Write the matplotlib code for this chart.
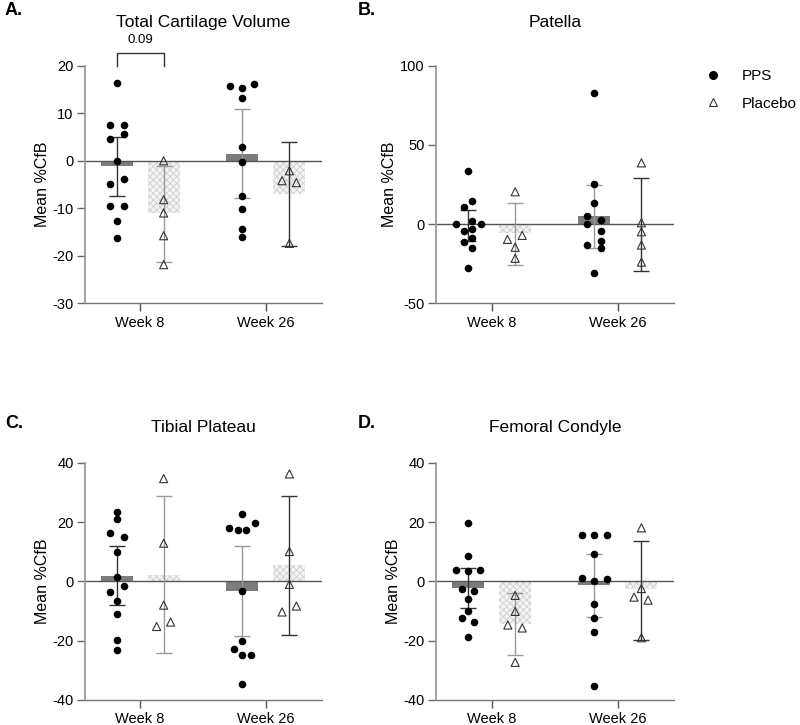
import matplotlib
matplotlib.use("Agg")
import matplotlib.pyplot as plt
from matplotlib.lines import Line2D
import numpy as np

plt.rcParams['font.family'] = ['Liberation Sans', 'DejaVu Sans']
plt.rcParams['hatch.linewidth'] = 0.6
plt.rcParams['axes.unicode_minus'] = False

weeks = ["Week 8", "Week 26"]
groups = ["PPS", "Placebo"]
titles = ["Total Cartilage Volume", "Patella", "Tibial Plateau", "Femoral Condyle"]
letters = ["A.", "B.", "C.", "D."]
ylims = [(-30, 20), (-50, 100), (-40, 40), (-40, 40)]
yticks = [[-30, -20, -10, 0, 10, 20], [-50, 0, 50, 100], [-40, -20, 0, 20, 40], [-40, -20, 0, 20, 40]]

# ---- Panel A: Total Cartilage Volume ----
A_pps_w8 = [16.5, 7.6, 7.6, 4.5, 5.7, 0.0, -4.8, -3.9, -9.5, -9.5, -12.7, -16.2]
A_pps_w8_dx = [0, -1, 1, -1, 1, 0, -1, 1, -1, 1, 0, 0]
A_pla_w8 = [0.0, -8.2, -11.0, -15.8, -21.9]
A_pla_w8_dx = [0, 0, 0, 0, 0]
A_pps_w26 = [15.7, 15.4, 16.2, 13.3, 3.0, -0.2, -7.5, -10.1, -14.3, -16.1]
A_pps_w26_dx = [-1.8, 0, 1.7, 0, 0, 0, 0, 0, 0, 0]
A_pla_w26 = [-4.2, -2.1, -4.6, -17.4]
A_pla_w26_dx = [-1.05, 0, 1.0, 0]
A_means = [-1.2, -11.1, 1.5, -6.9]        # PPS w8, Placebo w8, PPS w26, Placebo w26
A_err_hi = [5.0, -1.0, 10.9, 3.9]
A_err_lo = [-7.5, -21.4, -7.8, -17.9]

# ---- Panel B: Patella ----
B_pps_w8 = [33.7, 14.7, 10.9, 0.0, 2.1, 0.0, -4.2, -3.4, -9.1, -11.2, -15.4, -28.0]
B_pps_w8_dx = [0, 0.6, -0.6, -1.7, 0.6, 1.8, -0.6, 0.6, 0.6, -0.6, 0.6, 0]
B_pla_w8 = [20.4, -9.7, -7.2, -14.7, -21.7]
B_pla_w8_dx = [0, -1.1, 1.0, 0, 0]
B_pps_w26 = [82.7, 25.4, 13.0, 4.8, 0.0, 2.3, -4.1, -10.6, -13.1, -15.4, -31.0]
B_pps_w26_dx = [0, 0, 0, -1, -1, 1, 1, 1, -1, 1, 0]
B_pla_w26 = [38.7, 0.8, -4.9, -13.3, -24.1]
B_pla_w26_dx = [0, 0, 0, 0, 0]
B_means = [-0.8, -5.9, 4.8, -0.6]
B_err_hi = [8.9, 13.5, 25.0, 29.4]
B_err_lo = [-10.5, -26.0, -15.2, -30.0]

# ---- Panel C: Tibial Plateau ----
C_pps_w8 = [23.5, 21.1, 16.4, 15.1, 10.0, 1.5, -3.4, -1.6, -6.7, -11.0, -19.9, -23.1]
C_pps_w8_dx = [0, 0, -1, 1, 0, 0, -1, 1, 0, 0, 0, 0]
C_pla_w8 = [34.7, 12.9, -8.0, -15.2, -13.7]
C_pla_w8_dx = [0, 0, 0, -1, 1]
C_pps_w26 = [22.8, 18.1, 17.3, 17.3, 19.7, -3.1, -20.1, -22.9, -24.9, -24.9, -34.7]
C_pps_w26_dx = [0, -1.86, -0.62, 0.57, 1.76, 0, 0, -1.2, 0, 1.2, 0]
C_pla_w26 = [36.3, 10.1, -1.0, -10.3, -8.3]
C_pla_w26_dx = [0, 0, 0, -1.05, 1.0]
C_means = [1.8, 2.1, -3.1, 5.4]
C_err_hi = [11.8, 28.9, 12.0, 29.0]
C_err_lo = [-8.1, -24.3, -18.5, -18.2]

# ---- Panel D: Femoral Condyle ----
D_pps_w8 = [19.7, 8.7, 3.9, 3.6, 3.9, -2.7, -3.1, -5.8, -10.1, -12.5, -13.6, -18.9]
D_pps_w8_dx = [0, 0, -1.7, 0, 1.76, -0.86, 0.9, 0, 0, -0.86, 0.9, 0]
D_pla_w8 = [-4.7, -10.1, -14.7, -15.7, -27.3]
D_pla_w8_dx = [0, 0, -1.05, 1.0, 0]
D_pps_w26 = [15.8, 15.8, 15.8, 9.4, 1.1, 0.1, 0.7, -7.6, -12.2, -17.1, -35.4]
D_pps_w26_dx = [-1.76, 0, 1.76, 0, -1.76, 0, 1.76, 0, 0, 0, 0]
D_pla_w26 = [18.1, -2.4, -5.3, -6.3, -19.0]
D_pla_w26_dx = [0, 0, -1.05, 0.95, 0]
D_means = [-2.2, -14.2, -1.1, -2.7]
D_err_hi = [4.7, -4.0, 9.4, 13.8]
D_err_lo = [-9.1, -24.7, -12.1, -19.6]

panels = [
    (A_pps_w8, A_pps_w8_dx, A_pla_w8, A_pla_w8_dx, A_pps_w26, A_pps_w26_dx, A_pla_w26, A_pla_w26_dx, A_means, A_err_hi, A_err_lo),
    (B_pps_w8, B_pps_w8_dx, B_pla_w8, B_pla_w8_dx, B_pps_w26, B_pps_w26_dx, B_pla_w26, B_pla_w26_dx, B_means, B_err_hi, B_err_lo),
    (C_pps_w8, C_pps_w8_dx, C_pla_w8, C_pla_w8_dx, C_pps_w26, C_pps_w26_dx, C_pla_w26, C_pla_w26_dx, C_means, C_err_hi, C_err_lo),
    (D_pps_w8, D_pps_w8_dx, D_pla_w8, D_pla_w8_dx, D_pps_w26, D_pps_w26_dx, D_pla_w26, D_pla_w26_dx, D_means, D_err_hi, D_err_lo),
]

fig = plt.figure(figsize=(8, 7.25), dpi=100)
positions = [[0.106, 0.582, 0.2963, 0.327], [0.545, 0.582, 0.2975, 0.327],
             [0.106, 0.0345, 0.2963, 0.327], [0.545, 0.0345, 0.2975, 0.327]]
title_pads = [28, 28, 22, 22]
letter_xy = [(0.006, 0.997), (0.447, 0.997), (0.006, 0.427), (0.447, 0.427)]

offset = 0.187
barw = 0.254
unit = 7.0 / 126.0
pps_col = '#7c7c7c'
err_cols = ['#333333', '#9a9a9a', '#9a9a9a', '#333333']

for i, (pos, pdata) in enumerate(zip(positions, panels)):
    ax = fig.add_axes(pos)
    (pw8, pw8dx, lw8, lw8dx, pw26, pw26dx, lw26, lw26dx, means, ehi, elo) = pdata
    centers = [0 - offset, 0 + offset, 1 - offset, 1 + offset]
    # bars
    for j, c in enumerate(centers):
        if j % 2 == 0:
            ax.bar(c, means[j], width=barw, color=pps_col, linewidth=0, zorder=1)
        else:
            ax.bar(c, means[j], width=barw, color='#f3f3f3', edgecolor='#cfcfcf',
                   hatch='xxxxx', linewidth=0, zorder=1)
    ax.axhline(0, color='#555555', lw=1.0, zorder=1.5)
    # error bars
    for j, c in enumerate(centers):
        ax.errorbar([c], [means[j]], yerr=[[means[j] - elo[j]], [ehi[j] - means[j]]],
                    fmt='none', ecolor=err_cols[j], elinewidth=1.0, capsize=6,
                    capthick=1.0, zorder=2)
    # points
    sets = [(pw8, pw8dx, centers[0], 'pps'), (lw8, lw8dx, centers[1], 'pla'),
            (pw26, pw26dx, centers[2], 'pps'), (lw26, lw26dx, centers[3], 'pla')]
    for vals, dx, c, kind in sets:
        xs = c + np.array(dx) * unit
        if kind == 'pps':
            ax.scatter(xs, vals, s=30, color='black', linewidths=0, zorder=3)
        else:
            ax.scatter(xs, vals, s=34, marker='^', facecolors='none',
                       edgecolors='#333333', linewidths=0.8, zorder=3)

    ax.set_xlim(-0.44, 1.445)
    ax.set_ylim(*ylims[i])
    ax.set_yticks(yticks[i])
    ax.set_xticks([0, 1])
    ax.set_xticklabels(weeks, fontsize=10.5)
    ax.tick_params(axis='y', labelsize=10.5, length=6, width=1, color='#666666', pad=2)
    ax.tick_params(axis='x', length=6, width=1, color='#555555', pad=3)
    for s in ['top', 'right']:
        ax.spines[s].set_visible(False)
    ax.spines['left'].set_color('#9a9a9a')
    ax.spines['left'].set_linewidth(1.3)
    ax.spines['bottom'].set_color('#777777')
    ax.spines['bottom'].set_linewidth(1.0)
    ax.set_ylabel('Mean %CfB', fontsize=11.5, labelpad=2)
    ax.set_title(titles[i], fontsize=12.5, pad=title_pads[i])
    fig.text(letter_xy[i][0], letter_xy[i][1], letters[i], fontsize=13,
             fontweight='bold', ha='left', va='top')

    if i == 0:
        bx0, bx1 = centers[0], centers[1]
        ax.plot([bx0, bx0, bx1, bx1], [20, 22.7, 22.7, 20], color='#333333',
                lw=1.0, clip_on=False)
        ax.text(0, 24.2, '0.09', ha='center', va='bottom', fontsize=9.5)

handles = [Line2D([], [], marker='o', color='black', linestyle='none', markersize=5.5),
           Line2D([], [], marker='^', markerfacecolor='none', markeredgecolor='#333333',
                  markeredgewidth=0.8, linestyle='none', markersize=6)]
fig.legend(handles, groups, loc='upper left', bbox_to_anchor=(0.864, 0.924),
           frameon=False, fontsize=11, handletextpad=1.4, labelspacing=0.9,
           handlelength=1.0)

fig.savefig('out.png', dpi=100)
